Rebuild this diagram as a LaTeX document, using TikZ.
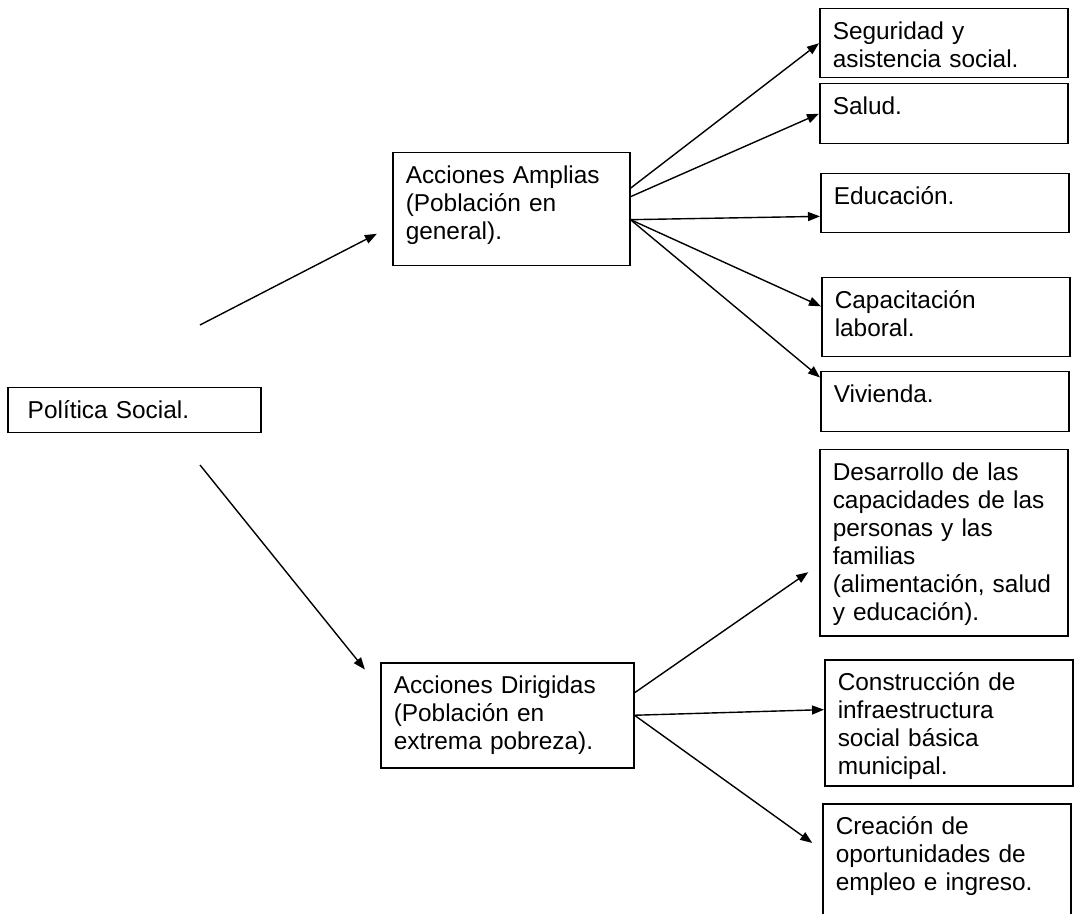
\documentclass[tikz,border=0pt]{standalone}
\usepackage{fontspec}
\setmainfont{Liberation Sans}
\usetikzlibrary{arrows.meta}

\begin{document}
\begin{tikzpicture}[
  x=0.5pt, y=-0.5pt,
  font=\fontsize{12.2}{14}\selectfont,
  cell/.style={draw=black, line width=0.75pt, anchor=north west, align=left,
               inner xsep=6.5pt, inner ysep=6.5pt, text height=9pt},
  item/.style={cell, text width=111pt},
  flow/.style={-{Triangle[length=6pt,width=4.5pt]}, draw=black, line width=0.7pt},
]
\useasboundingbox (0,0) rectangle (1077,914);
\clip (0,0) rectangle (1077,914);

% ---- root and the two branches ---------------------------------------------
\node[cell, text width=106.5pt, inner xsep=10pt, text depth=0.5pt] (pol) at (7,387)
  {Política Social.};
\node[cell, text width=105.5pt, text depth=34.5pt] (amp) at (392,152)
  {Acciones Amplias\\(Población en\\general).};
\node[cell, text width=113.5pt, text depth=30.5pt] (dir) at (380,662)
  {Acciones Dirigidas\\(Población en\\extrema pobreza).};

\coordinate (up)   at (200,325);
\coordinate (down) at (200,465);

\draw[flow, shorten >=8.5pt] (up) -- (amp.188);
\draw[flow, shorten >=12pt] (down) -- (dir.168);

% ---- broad actions ----------------------------------------------------------
\node[item, text depth=12.5pt] (seg) at (819,8)   {Seguridad y\\asistencia social.};
\node[item, text depth=8pt]    (sal) at (819,83)  {Salud.};
\node[item, text depth=7.5pt]  (edu) at (820,173) {Educación.};
\node[item, text depth=17.5pt] (cap) at (821,277) {Capacitación\\laboral.};
\node[item, text depth=8pt]    (viv) at (820,371) {Vivienda.};

\draw[flow] (amp.10) -- (seg.west);
\draw[flow] (amp.6) -- (sal.west);
\draw[flow] (amp.-5) -- (edu.186);
\draw[flow] (amp.-5) -- (cap.175);
\draw[flow] (amp.-5) -- (viv.169);

% ---- targeted actions -------------------------------------------------------
\node[item, text depth=71pt] (des) at (819,449)
  {Desarrollo de las\\capacidades de las\\personas y las\\familias\\(alimentación, salud\\y educación).};
\node[item, text depth=41pt] (con) at (824,659)
  {Construcción de\\infraestructura\\social básica\\municipal.};
\node[item, text depth=53pt] (cre) at (822,803)
  {Creación de\\oportunidades de\\empleo e ingreso.};

\draw[flow, shorten >=6.5pt] (dir.10) -- (des.190);
\draw[flow] (dir.east) -- (con.174);
\draw[flow, shorten >=6pt] (dir.east) -- (cre.167);

\end{tikzpicture}
\end{document}
